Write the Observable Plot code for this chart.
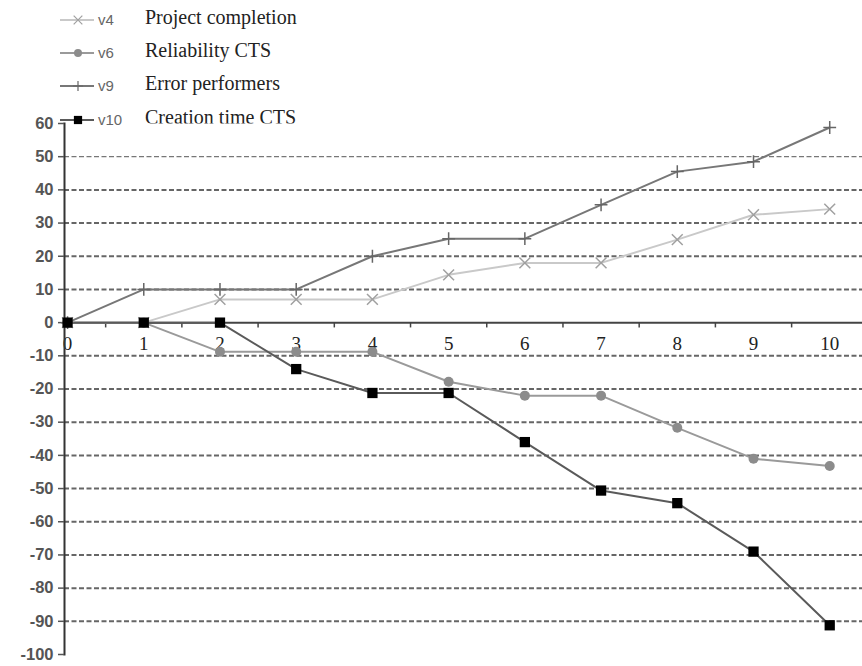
<!DOCTYPE html>
<html><head><meta charset="utf-8">
<script src="https://cdn.jsdelivr.net/npm/d3@7"></script>
<script src="https://cdn.jsdelivr.net/npm/@observablehq/plot@0.6"></script>
<style>
body{margin:0;background:#fff;}
#wrap{position:relative;width:862px;height:666px;}
#legend{position:absolute;left:0;top:0;}
#chart{position:absolute;left:0;top:0;z-index:1;}
.row{position:absolute;left:0;height:30px;width:400px;}
.row svg{position:absolute;left:58px;top:0;z-index:2;}
.code{position:absolute;left:98px;font-family:Arial,"Liberation Sans",sans-serif;font-size:15px;color:#666;z-index:2;}
.name{position:absolute;left:145px;font-family:"Liberation Serif","Times New Roman",serif;font-size:20px;color:#222;white-space:nowrap;z-index:0;}
</style></head>
<body>
<div id="wrap"><div id="legend"></div><div id="chart"></div></div>
<script>
const steps = [0,1,2,3,4,5,6,7,8,9,10];
const v4  = [0, 0, 7, 7, 7, 14.4, 18, 18, 25, 32.5, 34.2];
const v6  = [0, 0, -8.8, -8.8, -8.8, -17.8, -22, -22, -31.7, -41, -43.2];
const v9  = [0, 10, 10, 10, 20, 25.3, 25.3, 35.5, 45.5, 48.5, 58.8];
const v10 = [0, 0, 0, -14, -21.2, -21.2, -36, -50.6, -54.4, -69, -91.2];
const seriesNames = ["v4","v6","v9","v10"];
const seriesLabels = ["Project completion","Reliability CTS","Error performers","Creation time CTS"];
const yTicks = d3.range(-100, 61, 10);
const gridVals = d3.range(-90, 41, 10).filter(d => d !== 0);
const thinGrid = [50];
const xTickMarks = d3.range(0.5, 10.5, 1);

const valuesBy = {v4, v6, v9, v10};
const data = seriesNames.flatMap(s => steps.map((x, i) => ({series: s, x, y: valuesBy[s][i]})));
const style = {
  v4:  {line:"#c9c9c9", symbol:"times", mfill:"none", mstroke:"#a0a0a0", r:5, sw:1.5},
  v6:  {line:"#9a9a9a", symbol:"circle", mfill:"#8c8c8c", mstroke:"none", r:5, sw:0},
  v9:  {line:"#777777", symbol:"plus", mfill:"none", mstroke:"#666", r:4.2, sw:1.5},
  v10: {line:"#5a5a5a", symbol:"square", mfill:"#000", mstroke:"none", r:5.8, sw:0}
};

const marks = [
  Plot.frame({fill:"white", stroke:null}),
  Plot.ruleY(gridVals, {stroke:"#666", strokeWidth:2, strokeDasharray:"5,2.5"}),
  Plot.ruleY(thinGrid, {stroke:"#777", strokeWidth:1.2, strokeDasharray:"5,2.5"}),
  Plot.ruleY([0], {stroke:"#444", strokeWidth:2}),
  Plot.ruleX(xTickMarks, {x: d => d, y1: 0, y2: -1.6, stroke:"#444", strokeWidth:1.5}),
  Plot.text(steps, {x: d => d, y: 0, dy: 21, text: d => String(d), fontSize: 19, fontFamily: "Liberation Serif, Times New Roman, serif", fill:"#222"}),
  Plot.frame({anchor:"left", stroke:"#333", strokeWidth:2}),
  Plot.axisY({ticks: yTicks, tickFormat: d => String(d), label: null, tickSize: 6, tickPadding: 5, fontSize: 16.5, fontWeight: "bold", color: "#555", strokeWidth: 1.5})
];
for (const s of seriesNames) {
  const st = style[s];
  const d = data.filter(r => r.series === s);
  marks.push(Plot.line(d, {x:"x", y:"y", stroke: st.line, strokeWidth: 2}));
}
for (const s of seriesNames) {
  const st = style[s];
  const d = data.filter(r => r.series === s);
  marks.push(Plot.dot(d, {x:"x", y:"y", symbol: () => st.symbol, fill: st.mfill, stroke: st.mstroke, strokeWidth: st.sw, r: st.r}));
}

const chart = Plot.plot({
  width: 862, height: 666,
  marginLeft: 64, marginRight: 0, marginTop: 123, marginBottom: 12,
  style: {fontFamily: "Arial, Liberation Sans, sans-serif", background: "transparent", overflow: "visible"},
  x: {domain: [-0.04, 10.43], axis: null},
  y: {domain: [-100, 60], axis: null},
  symbol: {type: "identity"},
  marks
});
document.getElementById("chart").appendChild(chart);

// legend
const legend = document.getElementById("legend");
const rowTops = [5, 38, 71, 105];
seriesNames.forEach((s, i) => {
  const st = style[s];
  const row = document.createElement("div");
  row.className = "row";
  row.style.top = rowTops[i] + "px";
  const sym = d3.symbol(d3[{times:"symbolTimes",circle:"symbolCircle",plus:"symbolPlus",square:"symbolSquare"}[st.symbol]], Math.PI*st.r*st.r)();
  row.innerHTML = `<svg width="40" height="30"><line x1="2" y1="15" x2="36" y2="15" stroke="${st.line}" stroke-width="2"/>
    <path d="${sym}" transform="translate(20,15) scale(0.8)" fill="${st.mfill}" stroke="${st.mstroke}" stroke-width="${st.sw}"/></svg>
    <span class="code" style="top:6px">${s}</span><span class="name" style="top:1px">${seriesLabels[i]}</span>`;
  legend.appendChild(row);
});
</script>
</body></html>
